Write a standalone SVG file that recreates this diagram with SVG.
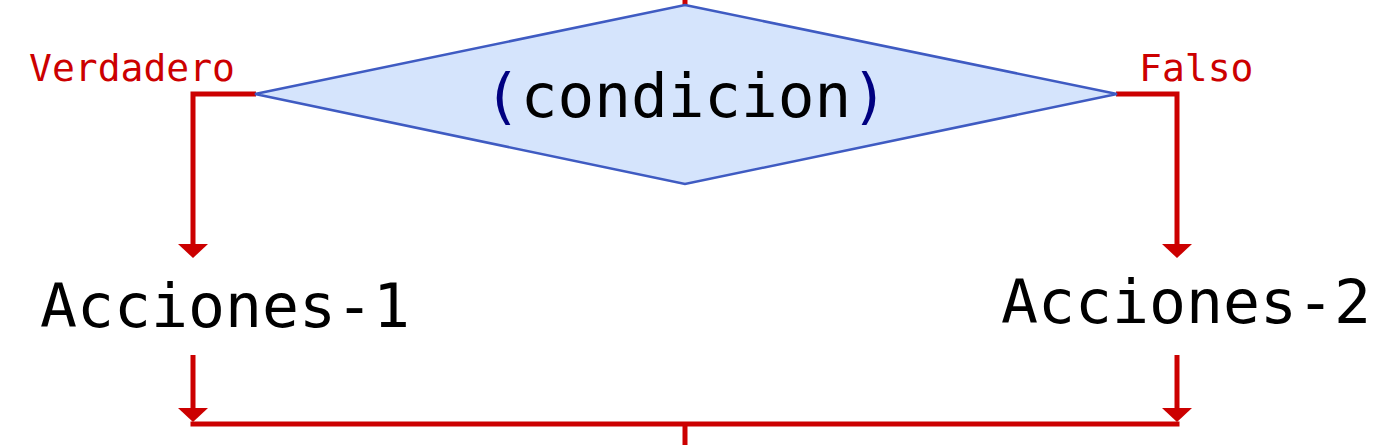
<svg xmlns="http://www.w3.org/2000/svg" width="1390" height="445" viewBox="0 0 1390 445">
<style>
.wire{fill:none;stroke:#cc0000;stroke-width:5}
.lbl{font-family:"DejaVu Sans Mono","Liberation Mono",monospace;font-size:38px;fill:#cc0000}
.big{font-family:"DejaVu Sans Mono","Liberation Mono",monospace;font-size:60px;fill:#000000}
.par{fill:#000080}
</style>
<defs>
<marker id="arr" markerUnits="userSpaceOnUse" viewBox="0 0 14 30" refX="0" refY="15" markerWidth="14" markerHeight="30" orient="auto">
<path d="M0,0 L14,15 L0,30 z" fill="#cc0000"/>
</marker>
</defs>
<rect width="1390" height="445" fill="#ffffff"/>
<g id="connectors">
<path class="wire" d="M685,0 V6"/>
<path class="wire" d="M256,94 H193 V244" marker-end="url(#arr)"/>
<path class="wire" d="M1116,94 H1177 V244" marker-end="url(#arr)"/>
<path class="wire" d="M193,355 V408" marker-end="url(#arr)"/>
<path class="wire" d="M1177,355 V408" marker-end="url(#arr)"/>
<path class="wire" d="M190.5,424 H1179.5"/>
<path class="wire" d="M685,424 V445"/>
<text class="lbl" x="29" y="81">Verdadero</text>
<text class="lbl" x="1139" y="81">Falso</text>
</g>
<g id="decision">
<polygon points="685,5 1117,94 685,184 255,94" fill="#d5e4fc" stroke="#3f5bc2" stroke-width="2.5"/>
<text class="big" x="484" y="117" textLength="404" lengthAdjust="spacingAndGlyphs"><tspan class="par">(</tspan>condicion<tspan class="par">)</tspan></text>
</g>
<g id="acciones1">
<text class="big" x="40" y="327" textLength="370" lengthAdjust="spacingAndGlyphs">Acciones-1</text>
</g>
<g id="acciones2">
<text class="big" x="1001" y="323" textLength="370" lengthAdjust="spacingAndGlyphs">Acciones-2</text>
</g>
</svg>
